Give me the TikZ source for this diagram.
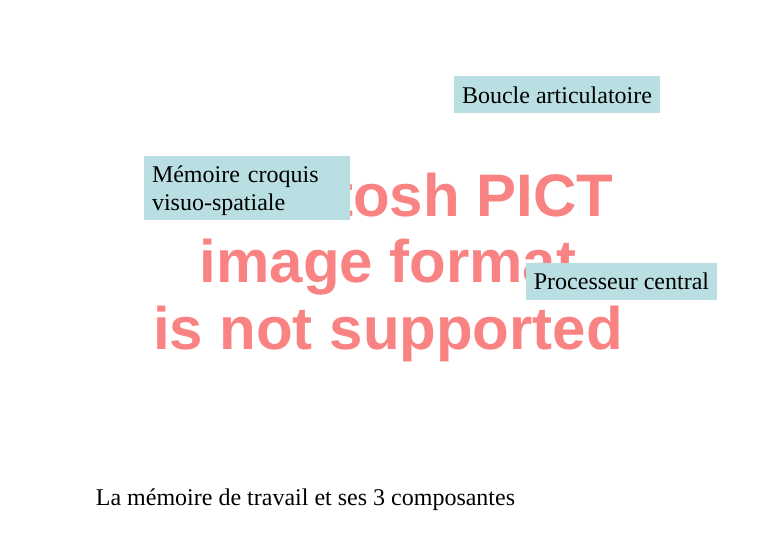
\documentclass[tikz,border=0pt]{standalone}
\usepackage{fontspec}
\setmainfont{Liberation Serif}
\newfontfamily\phfont{Liberation Sans}
\definecolor{boxfill}{RGB}{186,223,227}
\definecolor{phpink}{RGB}{249,131,131}
\begin{document}
\begin{tikzpicture}[x=1pt,y=-1pt,
  box/.style={fill=boxfill, inner sep=0pt, font=\fontsize{24}{28}\selectfont},
  boxtext/.style={inner sep=0pt, font=\fontsize{24}{28}\selectfont},
  ph/.style={anchor=base, inner sep=0pt, text=phpink, font=\phfont\bfseries\fontsize{60}{66}\selectfont}]
\useasboundingbox (0,0) rectangle (780,540);
\fill[white] (0,0) rectangle (780,540);
% placeholder image text
\node[ph] (ph1) at (388,217) {Macintosh PICT};
\node[ph] (ph2) at (388,283) {image format};
\node[ph] (ph3) at (388,350) {is not supported};
% boxes
\node[box, minimum width=206pt, minimum height=37pt] (boucle) at (557,95) {Boucle articulatoire};
\node[box, minimum width=206pt, minimum height=64pt] (croquis) at (247,188) {};
\node[boxtext, text width=190pt, align=left] (croquistext) at (247,191) {Mémoire croquis\\visuo-spatiale};
\node[box, minimum width=191pt, minimum height=37pt] (proc) at (621.5,281.5) {Processeur central};
% caption
\node[anchor=base, inner sep=0pt, font=\fontsize{24}{28}\selectfont] (caption) at (305.5,505) {La mémoire de travail et ses 3 composantes};
\end{tikzpicture}
\end{document}
